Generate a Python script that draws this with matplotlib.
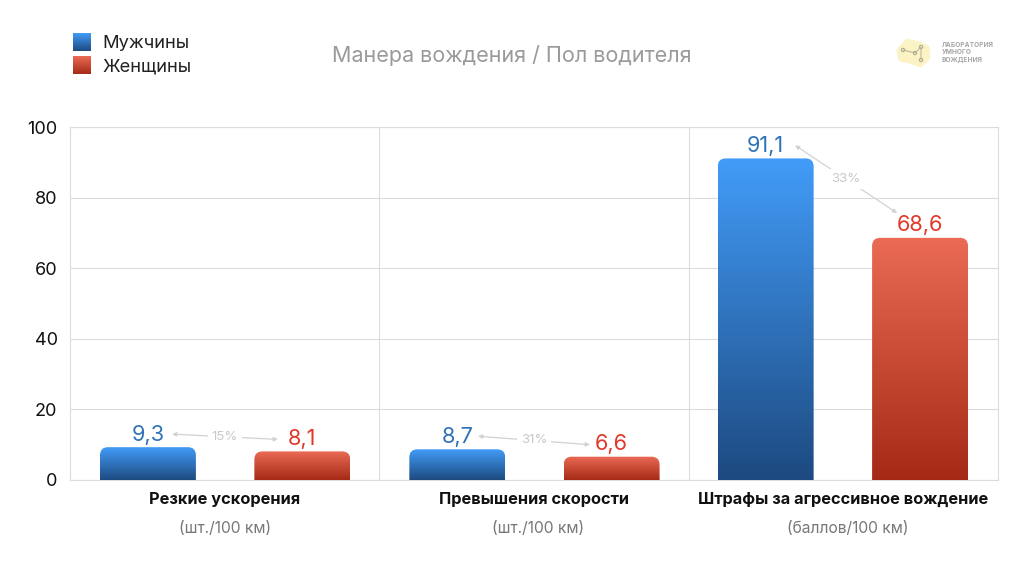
import numpy as np
import matplotlib
matplotlib.use("Agg")
import matplotlib.pyplot as plt
from matplotlib.colors import LinearSegmentedColormap
from matplotlib.path import Path
from matplotlib.patches import PathPatch, Polygon, Circle

plt.rcParams["font.family"] = ["Inter", "DejaVu Sans"]

# data
categories = ["Резкие ускорения", "Превышения скорости", "Штрафы за агрессивное вождение"]
units = ["(шт./100 км)", "(шт./100 км)", "(баллов/100 км)"]
men = [9.3, 8.7, 91.1]
women = [8.1, 6.6, 68.6]
men_labels = ["9,3", "8,7", "91,1"]
women_labels = ["8,1", "6,6", "68,6"]
diffs = ["15%", "31%", "33%"]
yticks = [0, 20, 40, 60, 80, 100]
series_names = ["Мужчины", "Женщины"]

W, H = 1024, 576
BLUE = LinearSegmentedColormap.from_list("b", ["#1d4a80", "#429cf8"])
RED = LinearSegmentedColormap.from_list("r", ["#a52a15", "#eb6b55"])
GRID = "#dcdcdc"
GRAD = np.linspace(1, 0, 256).reshape(-1, 1)

fig = plt.figure(figsize=(W / 100, H / 100), dpi=100)
ax = fig.add_axes([70 / W, (H - 480) / H, 928 / W, 353 / H])
ax.set_xlim(0, 3)
ax.set_ylim(0, 100)


def rounded_bar(ax, x0, x1, top, cmap, rx=0.026, ry=2.3):
    # bar with rounded top corners, filled by a vertical gradient
    ry = min(ry, top)
    k = Path.CURVE3
    verts = [(x0, 0), (x0, top - ry), (x0, top), (x0 + rx, top), (x1 - rx, top),
             (x1, top), (x1, top - ry), (x1, 0), (x0, 0)]
    codes = [Path.MOVETO, Path.LINETO, k, k, Path.LINETO, k, k, Path.LINETO, Path.CLOSEPOLY]
    patch = PathPatch(Path(verts, codes), fc="none", ec="none", transform=ax.transData)
    ax.add_patch(patch)
    im = ax.imshow(GRAD, extent=(x0, x1, 0, top), cmap=cmap, aspect="auto", zorder=3)
    im.set_clip_path(patch)


bar_w = 0.31
bar_shift = [0.003, 0.003, 0]
unit_shift = [0, 0.012, 0.013]
arrow_from = [0.330, 0.319, 0.344]
arrow_to = [0.672, 0.681, 0.674]
arrow_rise = [3.4, 3.4, 7]
for i in range(3):
    xm, xw = i + 0.249 + bar_shift[i], i + 0.748 + bar_shift[i]
    rounded_bar(ax, xm - bar_w / 2, xm + bar_w / 2, men[i], BLUE)
    rounded_bar(ax, xw - bar_w / 2, xw + bar_w / 2, women[i], RED)
    ax.text(xm, men[i] + 0.7, men_labels[i], ha="center", va="bottom", fontsize=15.7, color="#2f72b8", zorder=5)
    ax.text(xw, women[i] + 0.7, women_labels[i], ha="center", va="bottom", fontsize=15.7, color="#e0382a", zorder=5)

    # difference arrow between the two value labels
    y0 = men[i] + 3.7
    y1 = women[i] + arrow_rise[i]
    x0, x1 = i + arrow_from[i], i + arrow_to[i]
    ax.annotate("", xy=(x0, y0), xytext=(x1, y1), zorder=4,
                arrowprops=dict(arrowstyle="<|-|>", color="#d2d2d2", lw=0.9, mutation_scale=6,
                                shrinkA=0, shrinkB=0))
    ax.text((x0 + x1) / 2, (y0 + y1) / 2, diffs[i], ha="center", va="center", fontsize=9.5, color="#c8c8c8",
            zorder=5, bbox=dict(fc="white", ec="none", pad=3))

    tr = ax.get_xaxis_transform()
    ax.text(i + 0.5, -0.054, categories[i], transform=tr, ha="center", va="center",
            fontsize=11.8, fontweight="bold", color="#111111")
    ax.text(i + 0.5 + unit_shift[i], -0.136, units[i], transform=tr, ha="center", va="center",
            fontsize=11.2, color="#777777")

ax.set_xlim(0, 3)
ax.set_ylim(0, 100)
ax.set_xticks([1, 2])
ax.set_xticklabels([])
ax.set_yticks(yticks)
ax.tick_params(length=0, labelsize=13, labelcolor="#111111", pad=9)
ax.grid(True, color=GRID, lw=0.8, zorder=0)
ax.set_axisbelow(True)
for s in ax.spines.values():
    s.set_color(GRID)
    s.set_linewidth(0.8)

# overlay in pixel coordinates: legend, title, logo
ov = fig.add_axes([0, 0, 1, 1], facecolor="none")
ov.set_xlim(0, W)
ov.set_ylim(H, 0)
ov.axis("off")

for name, cmap, y in zip(series_names, [BLUE, RED], [42, 65]):
    ov.imshow(GRAD, extent=(73, 91, y + 9, y - 9), cmap=cmap, aspect="auto")
    ov.text(102, y + 1.5, name, va="center", ha="left", fontsize=13.2, color="#222222")
ov.set_xlim(0, W)
ov.set_ylim(H, 0)

ov.text(512, 55, "Манера вождения / Пол водителя", ha="center", va="center", fontsize=15.5, color="#9a9a9a")

ov.add_patch(Polygon([(898, 50), (907, 40), (920, 43), (928, 47), (929, 58), (921, 66), (909, 62), (900, 60)],
                     closed=True, fc="#fbf3c4", ec="#fbf3c4", lw=2, joinstyle="round"))
logo_pts = [(903, 50), (915, 53), (921, 47), (921, 60)]
ov.plot([903, 915, 921, 921], [50, 53, 47, 60], color="#b5b39c", lw=0.7)
for p in logo_pts:
    ov.add_patch(Circle(p, 1.7, fc="#fbf3c4", ec="#a8a690", lw=0.7))
for y, t in zip([45, 52.5, 60], ["ЛАБОРАТОРИЯ", "УМНОГО", "ВОЖДЕНИЯ"]):
    ov.text(942, y, t, va="center", ha="left", fontsize=4.8, fontweight="bold", color="#a8a8a8")

fig.savefig("out.png", dpi=100)
